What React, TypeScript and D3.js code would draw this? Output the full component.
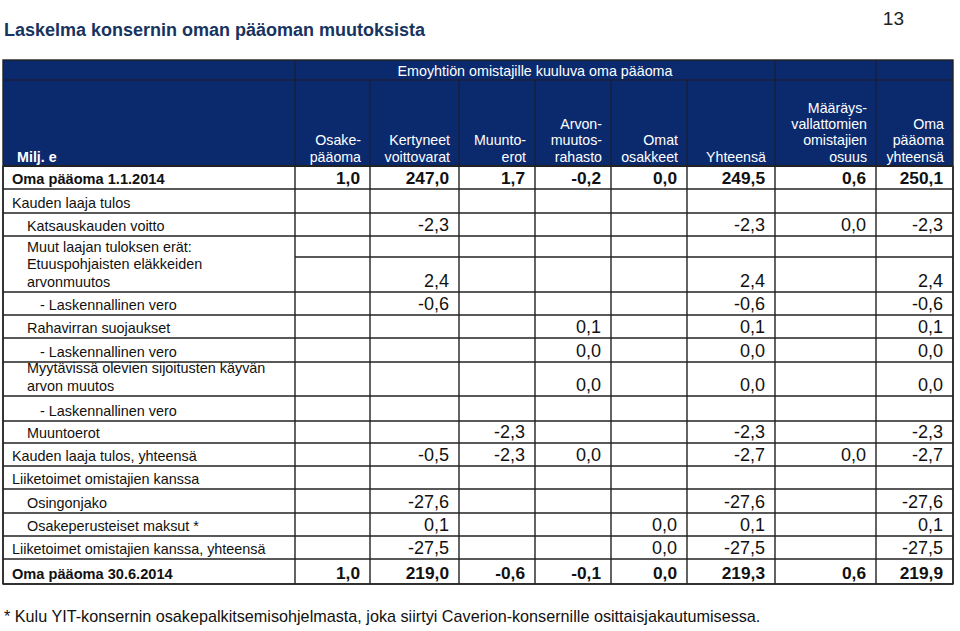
import React from "react";
import * as d3 from "d3";

// ---------- DATA ----------
const title = "Laskelma konsernin oman pääoman muutoksista";
const pageNumber = "13";
const unitLabel = "Milj. e";
const groupHeader = "Emoyhtiön omistajille kuuluva oma pääoma";
const footnote =
  "* Kulu YIT-konsernin osakepalkitsemisohjelmasta, joka siirtyi Caverion-konsernille osittaisjakautumisessa.";

const columnHeaders: string[][] = [
  ["Osake-", "pääoma"],
  ["Kertyneet", "voittovarat"],
  ["Muunto-", "erot"],
  ["Arvon-", "muutos-", "rahasto"],
  ["Omat", "osakkeet"],
  ["Yhteensä"],
  ["Määräys-", "vallattomien", "omistajien", "osuus"],
  ["Oma", "pääoma", "yhteensä"],
];

const rowLabels: string[] = [
  "Oma pääoma 1.1.2014",
  "Kauden laaja tulos",
  "Katsauskauden voitto",
  "Muut laajan tuloksen erät:",
  "Etuuspohjaisten eläkkeiden\narvonmuutos",
  "- Laskennallinen vero",
  "Rahavirran suojaukset",
  "- Laskennallinen vero",
  "Myytävissä olevien sijoitusten käyvän\narvon muutos",
  "- Laskennallinen vero",
  "Muuntoerot",
  "Kauden laaja tulos, yhteensä",
  "Liiketoimet omistajien kanssa",
  "Osingonjako",
  "Osakeperusteiset maksut *",
  "Liiketoimet omistajien kanssa, yhteensä",
  "Oma pääoma 30.6.2014",
];
const rowIndent: number[] = [0, 0, 1, 1, 1, 2, 1, 2, 1, 2, 1, 0, 0, 1, 1, 0, 0];
const rowBold: boolean[] = [true, false, false, false, false, false, false, false, false, false, false, false, false, false, false, false, true];

type V = number | null;
const osakepaaoma: V[] = [1.0, null, null, null, null, null, null, null, null, null, null, null, null, null, null, null, 1.0];
const kertyneetVoittovarat: V[] = [247.0, null, -2.3, null, 2.4, -0.6, null, null, null, null, null, -0.5, null, -27.6, 0.1, -27.5, 219.0];
const muuntoerot: V[] = [1.7, null, null, null, null, null, null, null, null, null, -2.3, -2.3, null, null, null, null, -0.6];
const arvonmuutosrahasto: V[] = [-0.2, null, null, null, null, null, 0.1, 0.0, 0.0, null, null, 0.0, null, null, null, null, -0.1];
const omatOsakkeet: V[] = [0.0, null, null, null, null, null, null, null, null, null, null, null, null, null, 0.0, 0.0, 0.0];
const yhteensa: V[] = [249.5, null, -2.3, null, 2.4, -0.6, 0.1, 0.0, 0.0, null, -2.3, -2.7, null, -27.6, 0.1, -27.5, 219.3];
const maaraysvallattomat: V[] = [0.6, null, 0.0, null, null, null, null, null, null, null, null, 0.0, null, null, null, null, 0.6];
const omaPaaomaYhteensa: V[] = [250.1, null, -2.3, null, 2.4, -0.6, 0.1, 0.0, 0.0, null, -2.3, -2.7, null, -27.6, 0.1, -27.5, 219.9];

const series: V[][] = [
  osakepaaoma,
  kertyneetVoittovarat,
  muuntoerot,
  arvonmuutosrahasto,
  omatOsakkeet,
  yhteensa,
  maaraysvallattomat,
  omaPaaomaYhteensa,
];

// ---------- LAYOUT ----------
const W = 960;
const H = 631;
const tableLeft = 3;
const labelColRight = 295;
const colWidths = [75, 89, 76, 76, 76, 88, 101, 77];
const headerTop = 60;
const headerMid = 80;
const headerBottom = 166;
const rowHeights = [23, 24, 23, 21, 35, 23, 23, 24, 34, 25, 22, 23, 23, 24, 23, 23, 25];
const mergedLabelAbove = new Set([4]); // no label-column line above row 4

const navy = "#0b2a6e";
const titleColor = "#17335f";
const gridColor = "#222";
const font = "'Liberation Sans', Arial, Helvetica, sans-serif";

const fmtLocale = d3.formatLocale({
  decimal: ",",
  thousands: " ",
  grouping: [3],
  currency: ["", ""],
  minus: "-",
});
const fmt = fmtLocale.format(".1f");

export default function App() {
  const colEdges = [labelColRight, ...Array.from(d3.cumsum(colWidths), (c) => labelColRight + c)];
  const tableRight = colEdges[colEdges.length - 1];
  const rowEdges = [headerBottom, ...Array.from(d3.cumsum(rowHeights), (c) => headerBottom + c)];
  const tableBottom = rowEdges[rowEdges.length - 1];

  const x = d3.scaleOrdinal<number, number>().domain(d3.range(colWidths.length)).range(colEdges.slice(1));
  const yBottom = d3.scaleOrdinal<number, number>().domain(d3.range(rowHeights.length)).range(rowEdges.slice(1));
  const indentX = d3.scaleOrdinal<number, number>().domain([0, 1, 2]).range([12, 27, 40]);

  const headerLineH = 16.3;

  return (
    <svg
      width={W}
      height={H}
      viewBox={`0 0 ${W} ${H}`}
      style={{ position: "absolute", left: 0, top: 0, background: "#fff" }}
      fontFamily={font}
    >
      <rect x={0} y={0} width={W} height={H} fill="#fff" />
      {/* Title */}
      <text x={4} y={36} fontSize={18} fontWeight="bold" fill={titleColor}>
        {title}
      </text>
      <text x={904} y={25} fontSize={19} textAnchor="end" fill="#222">
        {pageNumber}
      </text>

      {/* Header background */}
      <rect x={tableLeft} y={headerTop} width={tableRight - tableLeft} height={headerBottom - headerTop} fill={navy} />
      <text x={(labelColRight + colEdges[6]) / 2} y={76} fontSize={14.3} fill="#fff" textAnchor="middle">
        {groupHeader}
      </text>
      <text x={17} y={162} fontSize={14.3} fontWeight="bold" fill="#fff">
        {unitLabel}
      </text>
      {columnHeaders.map((lines, ci) => (
        <text key={ci} fontSize={14.2} fill="#fff" textAnchor="end">
          {lines.map((ln, li) => (
            <tspan key={li} x={x(ci) - 9} y={161.5 - (lines.length - 1 - li) * headerLineH}>
              {ln}
            </tspan>
          ))}
        </text>
      ))}
      {/* header grid lines */}
      <line x1={tableLeft} x2={tableRight} y1={headerMid} y2={headerMid} stroke="#1a1f3a" strokeWidth={1.3} />
      {[labelColRight, colEdges[6], colEdges[7]].map((cx, i) => (
        <line key={"ht" + i} x1={cx} x2={cx} y1={headerTop} y2={headerMid} stroke="#1a1f3a" strokeWidth={1.3} />
      ))}
      {colEdges.slice(0, -1).map((cx, i) => (
        <line key={"hb" + i} x1={cx} x2={cx} y1={headerMid} y2={headerBottom} stroke="#1a1f3a" strokeWidth={1.3} />
      ))}

      {/* Body horizontal lines */}
      {rowEdges.map((ry, i) => (
        <line
          key={"h" + i}
          x1={mergedLabelAbove.has(i) ? labelColRight : tableLeft}
          x2={tableRight}
          y1={ry}
          y2={ry}
          stroke={gridColor}
          strokeWidth={i === 0 ? 2 : 1.4}
        />
      ))}
      {/* Body vertical lines */}
      {[tableLeft, ...colEdges].map((cx, i) => (
        <line key={"v" + i} x1={cx} x2={cx} y1={headerBottom} y2={tableBottom} stroke={gridColor} strokeWidth={1.4} />
      ))}
      {/* outer border */}
      <rect
        x={tableLeft}
        y={headerTop}
        width={tableRight - tableLeft}
        height={tableBottom - headerTop}
        fill="none"
        stroke={gridColor}
        strokeWidth={1.4}
      />

      {/* Row labels */}
      {rowLabels.map((lab, ri) => {
        const lines = lab.split("\n");
        const base = yBottom(ri) - 5;
        return (
          <text key={"l" + ri} fontSize={rowBold[ri] ? 14.6 : 14.4} fontWeight={rowBold[ri] ? "bold" : "normal"} fill="#111">
            {lines.map((ln, li) => (
              <tspan key={li} x={indentX(rowIndent[ri])} y={base - (lines.length - 1 - li) * 18.5}>
                {ln}
              </tspan>
            ))}
          </text>
        );
      })}

      {/* Values */}
      {series.map((col, ci) =>
        col.map((v, ri) =>
          v === null ? null : (
            <text
              key={`v${ci}-${ri}`}
              x={x(ci) - 10}
              y={yBottom(ri) - 5}
              textAnchor="end"
              fontSize={rowBold[ri] ? 17.3 : 18}
              fontWeight={rowBold[ri] ? "bold" : "normal"}
              fill="#111"
            >
              {fmt(v)}
            </text>
          )
        )
      )}

      {/* Footnote */}
      <text x={4} y={622} fontSize={16.2} fill="#111">
        {footnote}
      </text>
    </svg>
  );
}
